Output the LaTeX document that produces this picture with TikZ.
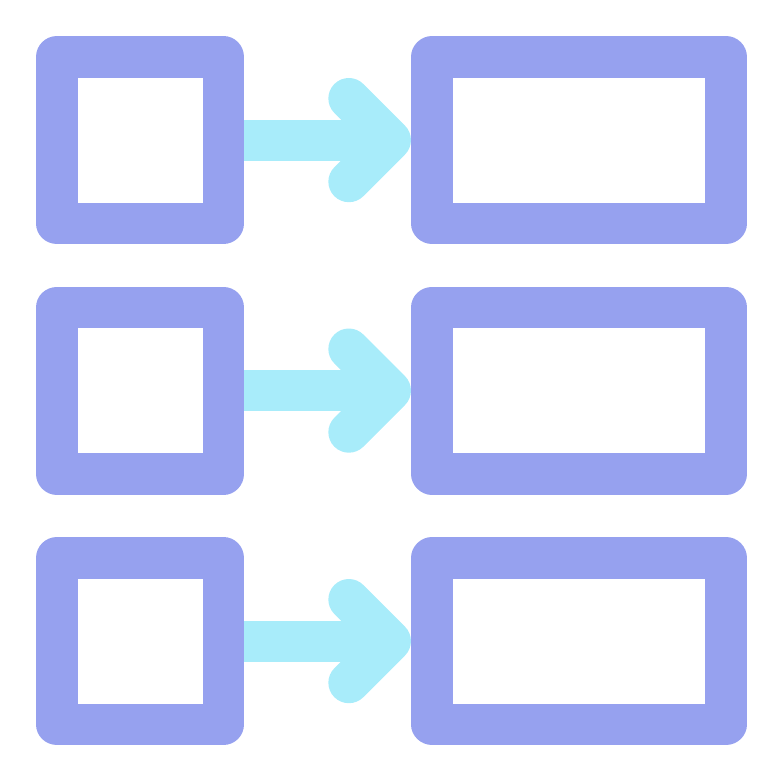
\documentclass[tikz,border=0pt]{standalone}
\usepackage{tikz}
\usetikzlibrary{calc}
\definecolor{boxpurple}{RGB}{150,161,239}
\definecolor{arrowcyan}{RGB}{168,236,250}

\begin{document}
\begin{tikzpicture}[x=1pt, y=-1pt,
  framebox/.style={draw=boxpurple, line width=41.5pt, line join=round,
                   inner sep=0pt, minimum height=166.5pt},
  flow/.style={arrowcyan, line width=41pt}]

\useasboundingbox (0,0) rectangle (783,783);

% Rows: source box, arrow, target box
\foreach \i/\y in {1/140.1, 2/390.6, 3/641.1} {
  \node[framebox, minimum width=166.5pt] (src\i) at (140.1,\y) {};
  \node[framebox, minimum width=293.8pt] (dst\i) at (579.1,\y) {};
  \coordinate (tip\i) at ($(dst\i.west)+(-21,0)$);
  % shaft
  \draw[flow] (src\i.east) -- (tip\i);
  % head
  \draw[flow, line cap=round, line join=round]
        ($(tip\i)+(-41.6,-41.6)$) -- (tip\i) -- ($(tip\i)+(-41.6,41.6)$);
}

\end{tikzpicture}
\end{document}
